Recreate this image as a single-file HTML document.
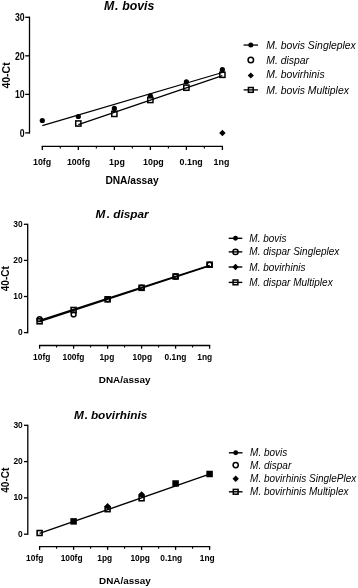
<!DOCTYPE html>
<html lang="en">
<head>
<meta charset="utf-8">
<title>Mycoplasma qPCR standard curves</title>
<style>
html,body{margin:0;padding:0;background:#fff;}
body{width:358px;height:588px;overflow:hidden;}
svg{display:block;font-family:'Liberation Sans', Arial, Helvetica, sans-serif;}
svg text{fill:#000;}
</style>
</head>
<body>
<svg width="358" height="588" viewBox="0 0 358 588" font-family="'Liberation Sans', Arial, Helvetica, sans-serif">
<rect width="358" height="588" fill="#fff"/>
<g>
<line x1="29.5" y1="16.65" x2="29.5" y2="133.55" stroke="#000" stroke-width="1.3" stroke-linecap="butt"/>
<line x1="25.2" y1="132.9" x2="29.5" y2="132.9" stroke="#000" stroke-width="1.3" stroke-linecap="butt"/>
<text transform="translate(24.6 136.59) scale(0.82 1)" font-size="10.6" font-weight="bold" font-style="normal" text-anchor="end">0</text>
<line x1="25.2" y1="94.37" x2="29.5" y2="94.37" stroke="#000" stroke-width="1.3" stroke-linecap="butt"/>
<text transform="translate(24.6 98.06) scale(0.82 1)" font-size="10.6" font-weight="bold" font-style="normal" text-anchor="end">10</text>
<line x1="25.2" y1="55.83" x2="29.5" y2="55.83" stroke="#000" stroke-width="1.3" stroke-linecap="butt"/>
<text transform="translate(24.6 59.53) scale(0.82 1)" font-size="10.6" font-weight="bold" font-style="normal" text-anchor="end">20</text>
<line x1="25.2" y1="17.3" x2="29.5" y2="17.3" stroke="#000" stroke-width="1.3" stroke-linecap="butt"/>
<text transform="translate(24.6 20.99) scale(0.82 1)" font-size="10.6" font-weight="bold" font-style="normal" text-anchor="end">30</text>
<line x1="41.65" y1="146.4" x2="223.05" y2="146.4" stroke="#000" stroke-width="1.3" stroke-linecap="butt"/>
<line x1="42.3" y1="146.4" x2="42.3" y2="150" stroke="#000" stroke-width="1.3" stroke-linecap="butt"/>
<line x1="60.31" y1="146.4" x2="60.31" y2="148.6" stroke="#000" stroke-width="1.1" stroke-linecap="butt"/>
<line x1="78.32" y1="146.4" x2="78.32" y2="150" stroke="#000" stroke-width="1.3" stroke-linecap="butt"/>
<line x1="96.33" y1="146.4" x2="96.33" y2="148.6" stroke="#000" stroke-width="1.1" stroke-linecap="butt"/>
<line x1="114.34" y1="146.4" x2="114.34" y2="150" stroke="#000" stroke-width="1.3" stroke-linecap="butt"/>
<line x1="132.35" y1="146.4" x2="132.35" y2="148.6" stroke="#000" stroke-width="1.1" stroke-linecap="butt"/>
<line x1="150.36" y1="146.4" x2="150.36" y2="150" stroke="#000" stroke-width="1.3" stroke-linecap="butt"/>
<line x1="168.37" y1="146.4" x2="168.37" y2="148.6" stroke="#000" stroke-width="1.1" stroke-linecap="butt"/>
<line x1="186.38" y1="146.4" x2="186.38" y2="150" stroke="#000" stroke-width="1.3" stroke-linecap="butt"/>
<line x1="204.39" y1="146.4" x2="204.39" y2="148.6" stroke="#000" stroke-width="1.1" stroke-linecap="butt"/>
<line x1="222.4" y1="146.4" x2="222.4" y2="150" stroke="#000" stroke-width="1.3" stroke-linecap="butt"/>
<text x="42.1" y="165.1" font-size="8.9" font-weight="bold" font-style="normal" text-anchor="middle">10fg</text>
<text x="78.5" y="165.1" font-size="8.9" font-weight="bold" font-style="normal" text-anchor="middle">100fg</text>
<text x="117" y="165.1" font-size="8.9" font-weight="bold" font-style="normal" text-anchor="middle">1pg</text>
<text x="153.4" y="165.1" font-size="8.9" font-weight="bold" font-style="normal" text-anchor="middle">10pg</text>
<text x="191.2" y="165.1" font-size="8.9" font-weight="bold" font-style="normal" text-anchor="middle">0.1ng</text>
<text x="221.5" y="165.1" font-size="8.9" font-weight="bold" font-style="normal" text-anchor="middle">1ng</text>
<text x="132" y="184.2" font-size="10.2" font-weight="bold" font-style="normal" text-anchor="middle">DNA/assay</text>
<text x="10.2" y="75.5" font-size="10.5" font-weight="bold" font-style="normal" text-anchor="middle" transform="rotate(-90 10.2 75.5)">40-Ct</text>
<text x="103.9" y="10.1" font-size="12.3" font-weight="bold" font-style="italic" text-anchor="start"><tspan>M</tspan><tspan dx="0.9">.</tspan><tspan dx="0.3"> bovis</tspan></text>
<circle cx="42.3" cy="120.5" r="2.6" fill="#000"/>
<circle cx="78.32" cy="116.5" r="2.6" fill="#000"/>
<circle cx="114.34" cy="108.4" r="2.6" fill="#000"/>
<circle cx="150.36" cy="95.9" r="2.6" fill="#000"/>
<circle cx="186.38" cy="81.8" r="2.6" fill="#000"/>
<circle cx="222.4" cy="69.7" r="2.6" fill="#000"/>
<rect x="75.72" y="120.9" width="5.2" height="5.2" fill="none" stroke="#000" stroke-width="1.5"/>
<rect x="111.74" y="111.3" width="5.2" height="5.2" fill="none" stroke="#000" stroke-width="1.5"/>
<rect x="147.76" y="97.4" width="5.2" height="5.2" fill="none" stroke="#000" stroke-width="1.5"/>
<rect x="183.78" y="85.1" width="5.2" height="5.2" fill="none" stroke="#000" stroke-width="1.5"/>
<rect x="219.8" y="72.2" width="5.2" height="5.2" fill="none" stroke="#000" stroke-width="1.5"/>
<path d="M222.4 129.8L225.6 133L222.4 136.2L219.2 133Z" fill="#000"/>
<line x1="42.3" y1="125.7" x2="222.4" y2="72.5" stroke="#000" stroke-width="1.3" stroke-linecap="butt"/>
<line x1="78.3" y1="124.7" x2="222.4" y2="75.7" stroke="#000" stroke-width="1.3" stroke-linecap="butt"/>
<line x1="243.6" y1="45.05" x2="258" y2="45.05" stroke="#000" stroke-width="1.3" stroke-linecap="butt"/>
<circle cx="250.8" cy="45.05" r="2.5" fill="#000"/>
<text x="266.3" y="48.6" font-size="10.4" font-weight="normal" font-style="italic" text-anchor="start">M. bovis Singleplex</text>
<circle cx="250.8" cy="59.9" r="2.75" fill="none" stroke="#000" stroke-width="1.5"/>
<text x="266.3" y="63.7" font-size="10.4" font-weight="normal" font-style="italic" text-anchor="start">M. dispar</text>
<path d="M250.8 72.4L253.9 75.5L250.8 78.6L247.7 75.5Z" fill="#000"/>
<text x="266.3" y="78.4" font-size="10.4" font-weight="normal" font-style="italic" text-anchor="start">M. bovirhinis</text>
<line x1="243.6" y1="89.9" x2="258" y2="89.9" stroke="#000" stroke-width="1.3" stroke-linecap="butt"/>
<rect x="248.4" y="87.5" width="4.8" height="4.8" fill="none" stroke="#000" stroke-width="1.5"/>
<text x="266.3" y="93.8" font-size="10.4" font-weight="normal" font-style="italic" text-anchor="start">M. bovis Multiplex</text>
</g>
<g>
<line x1="27.7" y1="223.65" x2="27.7" y2="333.25" stroke="#000" stroke-width="1.3" stroke-linecap="butt"/>
<line x1="23.9" y1="332.6" x2="27.7" y2="332.6" stroke="#000" stroke-width="1.3" stroke-linecap="butt"/>
<text transform="translate(22.7 335.11) scale(0.86 1)" font-size="9.8" font-weight="bold" font-style="normal" text-anchor="end">0</text>
<line x1="23.9" y1="296.5" x2="27.7" y2="296.5" stroke="#000" stroke-width="1.3" stroke-linecap="butt"/>
<text transform="translate(22.7 299.01) scale(0.86 1)" font-size="9.8" font-weight="bold" font-style="normal" text-anchor="end">10</text>
<line x1="23.9" y1="260.4" x2="27.7" y2="260.4" stroke="#000" stroke-width="1.3" stroke-linecap="butt"/>
<text transform="translate(22.7 262.91) scale(0.86 1)" font-size="9.8" font-weight="bold" font-style="normal" text-anchor="end">20</text>
<line x1="23.9" y1="224.3" x2="27.7" y2="224.3" stroke="#000" stroke-width="1.3" stroke-linecap="butt"/>
<text transform="translate(22.7 226.81) scale(0.86 1)" font-size="9.8" font-weight="bold" font-style="normal" text-anchor="end">30</text>
<line x1="38.95" y1="345.5" x2="210.25" y2="345.5" stroke="#000" stroke-width="1.3" stroke-linecap="butt"/>
<line x1="39.6" y1="345.5" x2="39.6" y2="348.7" stroke="#000" stroke-width="1.3" stroke-linecap="butt"/>
<line x1="56.6" y1="345.5" x2="56.6" y2="347.5" stroke="#000" stroke-width="1.1" stroke-linecap="butt"/>
<line x1="73.6" y1="345.5" x2="73.6" y2="348.7" stroke="#000" stroke-width="1.3" stroke-linecap="butt"/>
<line x1="90.6" y1="345.5" x2="90.6" y2="347.5" stroke="#000" stroke-width="1.1" stroke-linecap="butt"/>
<line x1="107.6" y1="345.5" x2="107.6" y2="348.7" stroke="#000" stroke-width="1.3" stroke-linecap="butt"/>
<line x1="124.6" y1="345.5" x2="124.6" y2="347.5" stroke="#000" stroke-width="1.1" stroke-linecap="butt"/>
<line x1="141.6" y1="345.5" x2="141.6" y2="348.7" stroke="#000" stroke-width="1.3" stroke-linecap="butt"/>
<line x1="158.6" y1="345.5" x2="158.6" y2="347.5" stroke="#000" stroke-width="1.1" stroke-linecap="butt"/>
<line x1="175.6" y1="345.5" x2="175.6" y2="348.7" stroke="#000" stroke-width="1.3" stroke-linecap="butt"/>
<line x1="192.6" y1="345.5" x2="192.6" y2="347.5" stroke="#000" stroke-width="1.1" stroke-linecap="butt"/>
<line x1="209.6" y1="345.5" x2="209.6" y2="348.7" stroke="#000" stroke-width="1.3" stroke-linecap="butt"/>
<text x="41.7" y="360.1" font-size="8.4" font-weight="bold" font-style="normal" text-anchor="middle">10fg</text>
<text x="73.5" y="360.1" font-size="8.4" font-weight="bold" font-style="normal" text-anchor="middle">100fg</text>
<text x="106.9" y="360.1" font-size="8.4" font-weight="bold" font-style="normal" text-anchor="middle">1pg</text>
<text x="142.3" y="360.1" font-size="8.4" font-weight="bold" font-style="normal" text-anchor="middle">10pg</text>
<text x="175.5" y="360.1" font-size="8.4" font-weight="bold" font-style="normal" text-anchor="middle">0.1ng</text>
<text x="204.7" y="360.1" font-size="8.4" font-weight="bold" font-style="normal" text-anchor="middle">1ng</text>
<text x="124.6" y="383.3" font-size="9.9" font-weight="bold" font-style="normal" text-anchor="middle">DNA/assay</text>
<text x="9.4" y="278.7" font-size="10" font-weight="bold" font-style="normal" text-anchor="middle" transform="rotate(-90 9.4 278.7)">40-Ct</text>
<text x="95.6" y="218.3" font-size="11.8" font-weight="bold" font-style="italic" text-anchor="start"><tspan>M</tspan><tspan dx="1.2">.</tspan><tspan dx="0"> dispar</tspan></text>
<circle cx="39.6" cy="319.2" r="2.4" fill="none" stroke="#000" stroke-width="1.5"/>
<rect x="37.1" y="318.8" width="5" height="5" fill="none" stroke="#000" stroke-width="1.6"/>
<circle cx="73.6" cy="314.4" r="2.4" fill="none" stroke="#000" stroke-width="1.5"/>
<rect x="71.1" y="307.5" width="5" height="5" fill="none" stroke="#000" stroke-width="1.6"/>
<circle cx="107.6" cy="299.3" r="2.4" fill="none" stroke="#000" stroke-width="1.5"/>
<rect x="105.1" y="296.8" width="5" height="5" fill="none" stroke="#000" stroke-width="1.6"/>
<circle cx="141.6" cy="287.6" r="2.4" fill="none" stroke="#000" stroke-width="1.5"/>
<rect x="139.1" y="285.3" width="5" height="5" fill="none" stroke="#000" stroke-width="1.6"/>
<circle cx="175.6" cy="276.5" r="2.4" fill="none" stroke="#000" stroke-width="1.5"/>
<rect x="173.1" y="274" width="5" height="5" fill="none" stroke="#000" stroke-width="1.6"/>
<circle cx="209.6" cy="264.7" r="2.4" fill="none" stroke="#000" stroke-width="1.5"/>
<rect x="207.1" y="262.2" width="5" height="5" fill="none" stroke="#000" stroke-width="1.6"/>
<line x1="39.6" y1="320.5" x2="209.6" y2="265.3" stroke="#000" stroke-width="1.35" stroke-linecap="butt"/>
<line x1="39.6" y1="321.5" x2="209.6" y2="265.8" stroke="#000" stroke-width="1.35" stroke-linecap="butt"/>
<line x1="228.7" y1="238.3" x2="242.3" y2="238.3" stroke="#000" stroke-width="1.4" stroke-linecap="butt"/>
<circle cx="235.5" cy="238.3" r="2.45" fill="#000"/>
<text x="249.3" y="241.7" font-size="10" font-weight="normal" font-style="italic" text-anchor="start">M. bovis</text>
<line x1="228.7" y1="251.9" x2="242.3" y2="251.9" stroke="#000" stroke-width="1.4" stroke-linecap="butt"/>
<circle cx="235.5" cy="251.9" r="2.6" fill="none" stroke="#000" stroke-width="1.5"/>
<text x="249.3" y="255.4" font-size="10" font-weight="normal" font-style="italic" text-anchor="start">M. dispar Singleplex</text>
<line x1="228.7" y1="267" x2="242.3" y2="267" stroke="#000" stroke-width="1.4" stroke-linecap="butt"/>
<path d="M235.5 263.8L238.7 267L235.5 270.2L232.3 267Z" fill="#000"/>
<text x="249.3" y="270.7" font-size="10" font-weight="normal" font-style="italic" text-anchor="start">M. bovirhinis</text>
<line x1="228.7" y1="282.4" x2="242.3" y2="282.4" stroke="#000" stroke-width="1.4" stroke-linecap="butt"/>
<rect x="233.1" y="280" width="4.8" height="4.8" fill="none" stroke="#000" stroke-width="1.5"/>
<text x="249.3" y="285.8" font-size="10" font-weight="normal" font-style="italic" text-anchor="start">M. dispar Multiplex</text>
</g>
<g>
<line x1="27.8" y1="424.65" x2="27.8" y2="534.85" stroke="#000" stroke-width="1.3" stroke-linecap="butt"/>
<line x1="24" y1="534.2" x2="27.8" y2="534.2" stroke="#000" stroke-width="1.3" stroke-linecap="butt"/>
<text transform="translate(22.8 536.71) scale(0.86 1)" font-size="9.8" font-weight="bold" font-style="normal" text-anchor="end">0</text>
<line x1="24" y1="497.9" x2="27.8" y2="497.9" stroke="#000" stroke-width="1.3" stroke-linecap="butt"/>
<text transform="translate(22.8 500.41) scale(0.86 1)" font-size="9.8" font-weight="bold" font-style="normal" text-anchor="end">10</text>
<line x1="24" y1="461.6" x2="27.8" y2="461.6" stroke="#000" stroke-width="1.3" stroke-linecap="butt"/>
<text transform="translate(22.8 464.11) scale(0.86 1)" font-size="9.8" font-weight="bold" font-style="normal" text-anchor="end">20</text>
<line x1="24" y1="425.3" x2="27.8" y2="425.3" stroke="#000" stroke-width="1.3" stroke-linecap="butt"/>
<text transform="translate(22.8 427.81) scale(0.86 1)" font-size="9.8" font-weight="bold" font-style="normal" text-anchor="end">30</text>
<line x1="38.95" y1="546.7" x2="210.25" y2="546.7" stroke="#000" stroke-width="1.3" stroke-linecap="butt"/>
<line x1="39.6" y1="546.7" x2="39.6" y2="549.9" stroke="#000" stroke-width="1.3" stroke-linecap="butt"/>
<line x1="56.6" y1="546.7" x2="56.6" y2="548.7" stroke="#000" stroke-width="1.1" stroke-linecap="butt"/>
<line x1="73.6" y1="546.7" x2="73.6" y2="549.9" stroke="#000" stroke-width="1.3" stroke-linecap="butt"/>
<line x1="90.6" y1="546.7" x2="90.6" y2="548.7" stroke="#000" stroke-width="1.1" stroke-linecap="butt"/>
<line x1="107.6" y1="546.7" x2="107.6" y2="549.9" stroke="#000" stroke-width="1.3" stroke-linecap="butt"/>
<line x1="124.6" y1="546.7" x2="124.6" y2="548.7" stroke="#000" stroke-width="1.1" stroke-linecap="butt"/>
<line x1="141.6" y1="546.7" x2="141.6" y2="549.9" stroke="#000" stroke-width="1.3" stroke-linecap="butt"/>
<line x1="158.6" y1="546.7" x2="158.6" y2="548.7" stroke="#000" stroke-width="1.1" stroke-linecap="butt"/>
<line x1="175.6" y1="546.7" x2="175.6" y2="549.9" stroke="#000" stroke-width="1.3" stroke-linecap="butt"/>
<line x1="192.6" y1="546.7" x2="192.6" y2="548.7" stroke="#000" stroke-width="1.1" stroke-linecap="butt"/>
<line x1="209.6" y1="546.7" x2="209.6" y2="549.9" stroke="#000" stroke-width="1.3" stroke-linecap="butt"/>
<text x="34.7" y="561.4" font-size="8.4" font-weight="bold" font-style="normal" text-anchor="middle">10fg</text>
<text x="71.6" y="561.4" font-size="8.4" font-weight="bold" font-style="normal" text-anchor="middle">100fg</text>
<text x="104.8" y="561.4" font-size="8.4" font-weight="bold" font-style="normal" text-anchor="middle">1pg</text>
<text x="140.2" y="561.4" font-size="8.4" font-weight="bold" font-style="normal" text-anchor="middle">10pg</text>
<text x="171.2" y="561.4" font-size="8.4" font-weight="bold" font-style="normal" text-anchor="middle">0.1ng</text>
<text x="207.2" y="561.4" font-size="8.4" font-weight="bold" font-style="normal" text-anchor="middle">1ng</text>
<text x="124.9" y="584.2" font-size="9.9" font-weight="bold" font-style="normal" text-anchor="middle">DNA/assay</text>
<text x="9.4" y="480.2" font-size="10" font-weight="bold" font-style="normal" text-anchor="middle" transform="rotate(-90 9.4 480.2)">40-Ct</text>
<text x="73.9" y="419.1" font-size="11.8" font-weight="bold" font-style="italic" text-anchor="start"><tspan>M</tspan><tspan dx="0.9">.</tspan><tspan dx="-0.3"> bovirhinis</tspan></text>
<rect x="37.15" y="530.55" width="4.9" height="4.9" fill="none" stroke="#000" stroke-width="1.6"/>
<rect x="71.15" y="518.95" width="4.9" height="4.9" fill="#000" stroke="#000" stroke-width="1.6"/>
<path d="M107.6 503L111 506.4L107.6 509.8L104.2 506.4Z" fill="#000"/>
<rect x="105.15" y="506.75" width="4.9" height="4.9" fill="none" stroke="#000" stroke-width="1.6"/>
<path d="M141.6 491.2L145 494.6L141.6 498L138.2 494.6Z" fill="#000"/>
<rect x="139.15" y="495.85" width="4.9" height="4.9" fill="none" stroke="#000" stroke-width="1.6"/>
<rect x="173.15" y="481.05" width="4.9" height="4.9" fill="#000" stroke="#000" stroke-width="1.6"/>
<rect x="207.15" y="471.55" width="4.9" height="4.9" fill="#000" stroke="#000" stroke-width="1.6"/>
<line x1="39.5" y1="533.4" x2="209.5" y2="474.2" stroke="#000" stroke-width="1.4" stroke-linecap="butt"/>
<line x1="228.9" y1="452.8" x2="242.5" y2="452.8" stroke="#000" stroke-width="1.4" stroke-linecap="butt"/>
<circle cx="235.7" cy="452.8" r="2.45" fill="#000"/>
<text x="250.1" y="456.3" font-size="10" font-weight="normal" font-style="italic" text-anchor="start">M. bovis</text>
<circle cx="235.7" cy="465.1" r="2.6" fill="none" stroke="#000" stroke-width="1.5"/>
<text x="250.1" y="468.7" font-size="10" font-weight="normal" font-style="italic" text-anchor="start">M. dispar</text>
<path d="M235.7 475.5L238.9 478.7L235.7 481.9L232.5 478.7Z" fill="#000"/>
<text x="250.1" y="482.1" font-size="10" font-weight="normal" font-style="italic" text-anchor="start">M. bovirhinis SinglePlex</text>
<line x1="228.9" y1="491.8" x2="242.5" y2="491.8" stroke="#000" stroke-width="1.4" stroke-linecap="butt"/>
<rect x="233.3" y="489.4" width="4.8" height="4.8" fill="none" stroke="#000" stroke-width="1.5"/>
<text x="250.1" y="495.3" font-size="10" font-weight="normal" font-style="italic" text-anchor="start">M. bovirhinis Multiplex</text>
</g>
</svg>
</body>
</html>
